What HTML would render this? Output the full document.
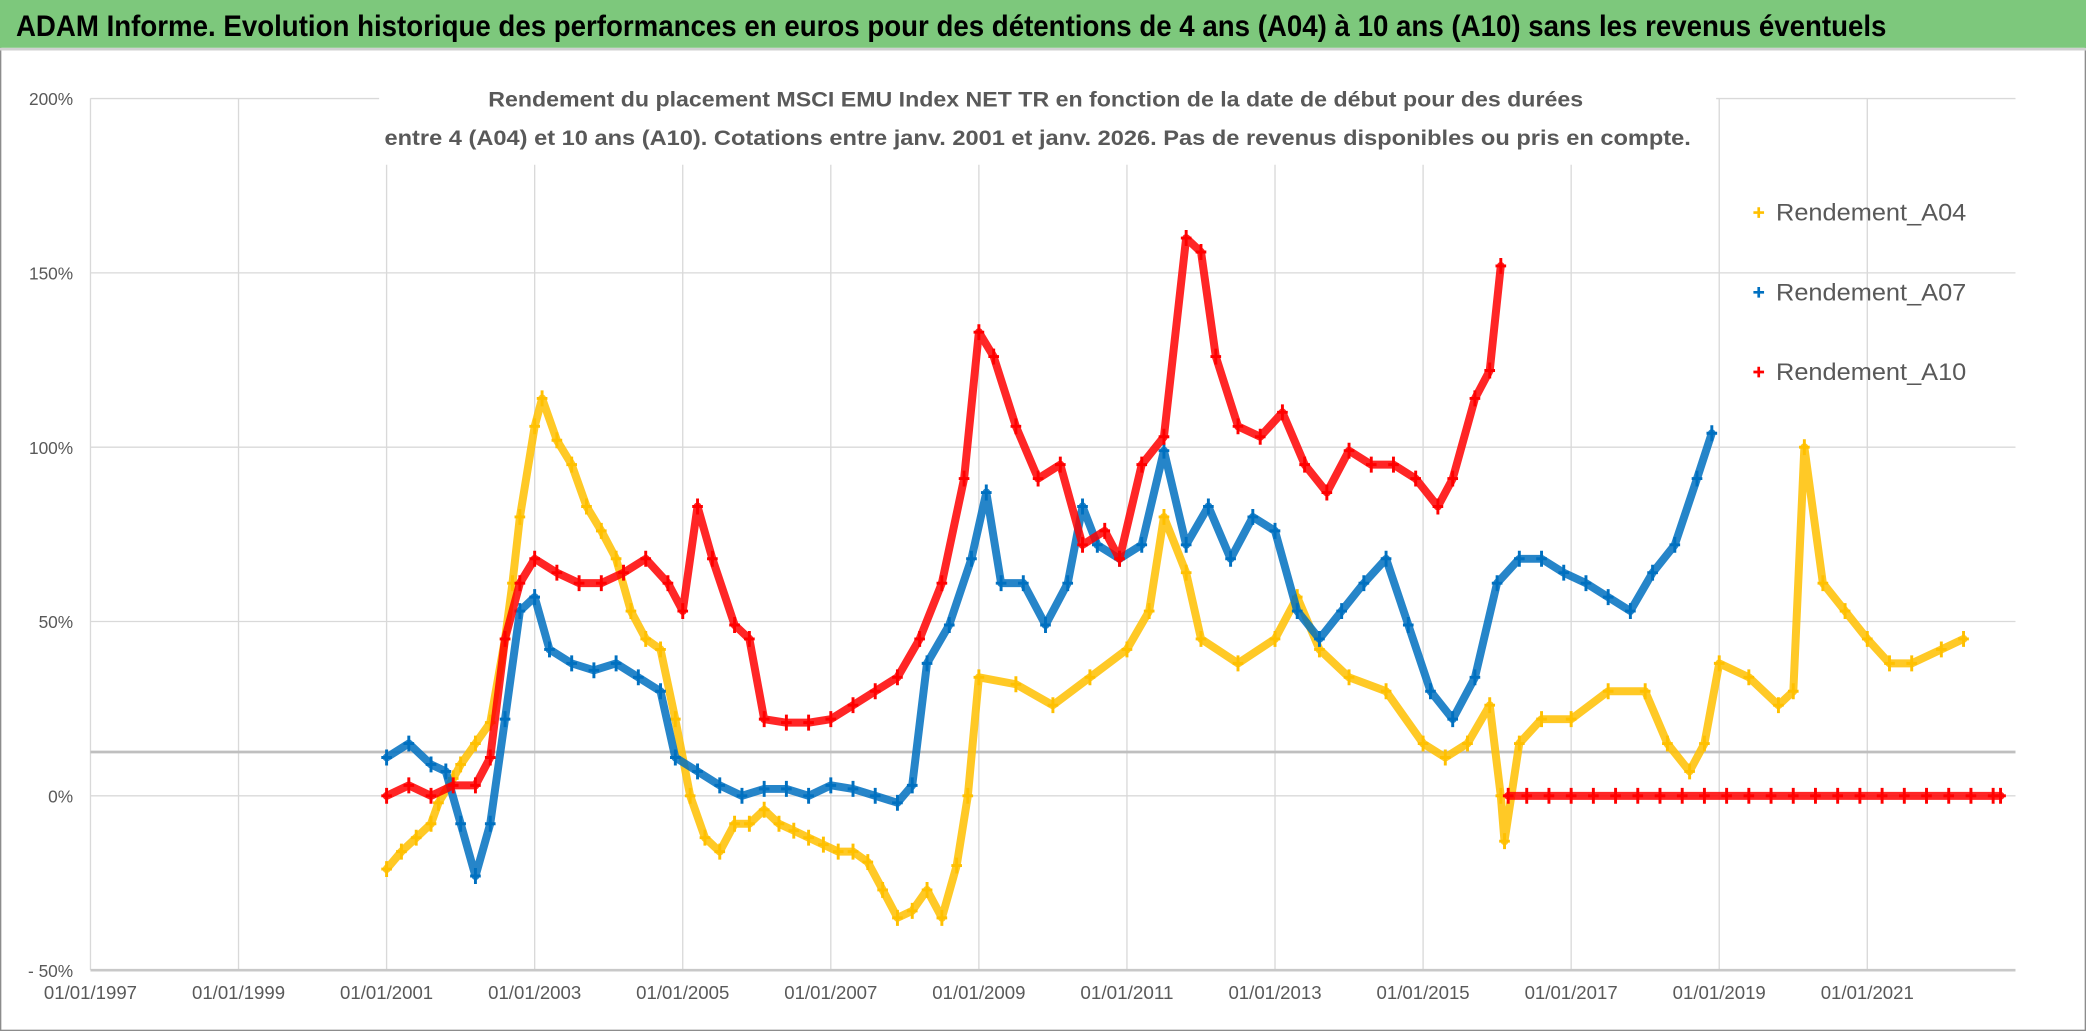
<!DOCTYPE html>
<html><head><meta charset="utf-8">
<style>
html,body{margin:0;padding:0;background:#fff;}
svg{display:block;font-family:"Liberation Sans",sans-serif;}
</style></head>
<body>
<svg id="chart" width="2086" height="1031" viewBox="0 0 1568 776" preserveAspectRatio="none" xmlns="http://www.w3.org/2000/svg">
<rect x="0" y="0" width="1568" height="776" fill="#fff"/>
<rect x="0.5" y="0.5" width="1567" height="775" fill="none" stroke="#8c8c8c"/>
<rect x="0" y="0" width="1568" height="36" fill="#7dc87c"/>
<line x1="0" y1="37" x2="1568" y2="37" stroke="#d0d0d0" stroke-width="2"/>
<text x="12" y="27" font-size="22" font-weight="bold" fill="#000" textLength="1406" lengthAdjust="spacingAndGlyphs">ADAM Informe. Evolution historique des performances en euros pour des détentions de 4 ans (A04) à 10 ans (A10) sans les revenus éventuels</text>
<g id="grid"></g>
<g id="axes"></g>
<rect x="285" y="58" width="1005" height="66" fill="#fff"/>
<text x="367" y="80" font-size="16" font-weight="bold" fill="#595959" textLength="823" lengthAdjust="spacingAndGlyphs">Rendement du placement MSCI EMU Index NET TR en fonction de la date de début pour des durées</text>
<text x="289" y="109" font-size="16" font-weight="bold" fill="#595959" textLength="982" lengthAdjust="spacingAndGlyphs">entre 4 (A04) et 10 ans (A10). Cotations entre janv. 2001 et janv. 2026. Pas de revenus disponibles ou pris en compte.</text>
<g id="series"></g>
<g id="legend"></g>
</svg>
<script>
const yTicks = [-50, 0, 50, 100, 150, 200];
const yTickLabels = ['- 50%', '0%', '50%', '100%', '150%', '200%'];
const xTicks = [1997, 1999, 2001, 2003, 2005, 2007, 2009, 2011, 2013, 2015, 2017, 2019, 2021];
const xTickLabels = ['01/01/1997','01/01/1999','01/01/2001','01/01/2003','01/01/2005','01/01/2007','01/01/2009','01/01/2011','01/01/2013','01/01/2015','01/01/2017','01/01/2019','01/01/2021'];
const seriesNames = ['Rendement_A04', 'Rendement_A07', 'Rendement_A10'];

const a04Years = [2001.0,2001.2,2001.4,2001.6,2001.7,2001.9,2002.0,2002.2,2002.4,2002.6,2002.7,2002.8,2003.0,2003.1,2003.3,2003.5,2003.7,2003.9,2004.1,2004.3,2004.5,2004.7,2004.9,2005.1,2005.3,2005.5,2005.7,2005.9,2006.1,2006.3,2006.5,2006.7,2006.9,2007.1,2007.3,2007.5,2007.7,2007.9,2008.1,2008.3,2008.5,2008.7,2008.85,2009.0,2009.5,2010.0,2010.5,2011.0,2011.3,2011.5,2011.8,2012.0,2012.5,2013.0,2013.3,2013.6,2014.0,2014.5,2015.0,2015.3,2015.6,2015.9,2016.05,2016.1,2016.3,2016.6,2017.0,2017.5,2018.0,2018.3,2018.6,2018.8,2019.0,2019.4,2019.8,2020.0,2020.15,2020.4,2020.7,2021.0,2021.3,2021.6,2022.0,2022.3];
const a04Values = [-21,-16,-12,-8,-2,5,9,15,21,45,61,80,106,114,102,95,83,76,68,53,45,42,22,0,-12,-16,-8,-8,-4,-8,-10,-12,-14,-16,-16,-19,-27,-35,-33,-27,-35,-20,0,34,32,26,34,42,53,80,64,45,38,45,57,42,34,30,15,11,15,26,0,-13,15,22,22,30,30,15,7,15,38,34,26,30,100,61,53,45,38,38,42,45];

const a07Years = [2001.0,2001.3,2001.6,2001.8,2002.0,2002.2,2002.4,2002.6,2002.8,2003.0,2003.2,2003.5,2003.8,2004.1,2004.4,2004.7,2004.9,2005.2,2005.5,2005.8,2006.1,2006.4,2006.7,2007.0,2007.3,2007.6,2007.9,2008.1,2008.3,2008.6,2008.9,2009.1,2009.3,2009.6,2009.9,2010.2,2010.4,2010.6,2010.9,2011.2,2011.5,2011.8,2012.1,2012.4,2012.7,2013.0,2013.3,2013.6,2013.9,2014.2,2014.5,2014.8,2015.1,2015.4,2015.7,2016.0,2016.3,2016.6,2016.9,2017.2,2017.5,2017.8,2018.1,2018.4,2018.7,2018.9];
const a07Values = [11,15,9,7,-8,-23,-8,22,53,57,42,38,36,38,34,30,11,7,3,0,2,2,0,3,2,0,-2,3,38,49,68,87,61,61,49,61,83,72,68,72,99,72,83,68,80,76,53,45,53,61,68,49,30,22,34,61,68,68,64,61,57,53,64,72,91,104];

const a10Years = [2001.0,2001.3,2001.6,2001.9,2002.2,2002.4,2002.6,2002.8,2003.0,2003.3,2003.6,2003.9,2004.2,2004.5,2004.8,2005.0,2005.2,2005.4,2005.7,2005.9,2006.1,2006.4,2006.7,2007.0,2007.3,2007.6,2007.9,2008.2,2008.5,2008.8,2009.0,2009.2,2009.5,2009.8,2010.1,2010.4,2010.7,2010.9,2011.2,2011.5,2011.8,2012.0,2012.2,2012.5,2012.8,2013.1,2013.4,2013.7,2014.0,2014.3,2014.6,2014.9,2015.2,2015.4,2015.7,2015.9,2016.05,2016.15,2016.4,2016.7,2017.0,2017.3,2017.6,2017.9,2018.2,2018.5,2018.8,2019.1,2019.4,2019.7,2020.0,2020.3,2020.6,2020.9,2021.2,2021.5,2021.8,2022.1,2022.4,2022.7,2022.8];
const a10Values = [0,3,0,3,3,11,45,61,68,64,61,61,64,68,61,53,83,68,49,45,22,21,21,22,26,30,34,45,61,91,133,126,106,91,95,72,76,68,95,103,160,156,126,106,103,110,95,87,99,95,95,91,83,91,114,122,152,0,0,0,0,0,0,0,0,0,0,0,0,0,0,0,0,0,0,0,0,0,0,0,0];

const NS = 'http://www.w3.org/2000/svg';
const L = 68, R = 1515, T = 74, B = 730;
function xScale(yr){ return L + (yr - 1997) * 55.65; }
function yScale(v){ return 599 - v * (131.2 / 50); }
function mk(tag, attrs, parent){ const e = document.createElementNS(NS, tag); for (const k in attrs) e.setAttribute(k, attrs[k]); parent.appendChild(e); return e; }

const grid = document.getElementById('grid');
const axes = document.getElementById('axes');
xTicks.forEach((t, i) => {
  const x = xScale(t);
  const gl = mk('line', {x1:x, y1:T, x2:x, y2:B, stroke:'#d9d9d9', 'stroke-width':1}, grid);
  
  
  const tx = mk('text', {x:x, y:752, 'font-size':14, fill:'#595959', 'text-anchor':'middle', textLength:70, lengthAdjust:'spacingAndGlyphs'}, axes);
  tx.textContent = xTickLabels[i];
  
  
});
yTicks.forEach((t, i) => {
  const y = yScale(t);
  const gl = mk('line', {x1:L, y1:y, x2:R, y2:y, stroke:(t === -50 ? '#c8c8c8' : '#d9d9d9'), 'stroke-width':(t === -50 ? 2 : 1)}, grid);
  
  
  const tx = mk('text', {x:55, y:y + 5, 'font-size':13, fill:'#595959', 'text-anchor':'end'}, axes);
  tx.textContent = yTickLabels[i];
  
  
});
const ref = mk('line', {x1:L, y1:566, x2:R, y2:566, stroke:'#bfbfbf', 'stroke-width':2}, grid);



const seriesG = document.getElementById('series');
function drawSeries(years, vals, color, name){
  const g = mk('g', {stroke:color, fill:'none'}, seriesG);
  
  
  let d = '';
  years.forEach((yr, i) => {
    const x = xScale(yr).toFixed(1), y = yScale(vals[i]).toFixed(1);
    const brk = i === 0 || Math.abs(vals[i] - vals[i-1]) > 80;
    d += (brk ? 'M' : 'L') + x + ',' + y + ' ';
  });
  const pl = mk('path', {d:d, 'stroke-width':6, 'stroke-linejoin':'round', 'stroke-linecap':'round', opacity:0.85}, g);
  
  
  years.forEach((yr, i) => {
    const x = xScale(yr), y = yScale(vals[i]);
    const p = mk('path', {d:`M${x-4},${y}H${x+4}M${x},${y-6}V${y+6}`, 'stroke-width':2.2}, g);
    
    
  });
}
drawSeries(a04Years, a04Values, '#ffc000', 'series-a04');
drawSeries(a07Years, a07Values, '#0070c0', 'series-a07');
drawSeries(a10Years, a10Values, '#ff0000', 'series-a10');

const legend = document.getElementById('legend');
const legColors = ['#ffc000', '#0070c0', '#ff0000'];
seriesNames.forEach((n, i) => {
  const y = 166 + i * 60;
  const m = mk('path', {d:`M1318,${y-6}H1326M1322,${y-10}V${y-2}`, stroke:legColors[i], 'stroke-width':2}, legend);
  
  
  const t = mk('text', {x:1335, y:y, 'font-size':18, fill:'#595959', textLength:143, lengthAdjust:'spacingAndGlyphs'}, legend);
  t.textContent = n;
  
  
});
</script>
</body></html>
